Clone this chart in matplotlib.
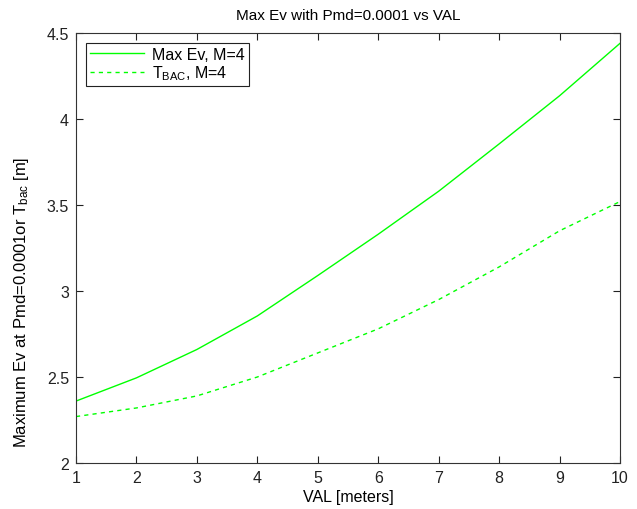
import matplotlib
matplotlib.use("Agg")
import matplotlib.pyplot as plt

val = [1, 2, 3, 4, 5, 6, 7, 8, 9, 10]
max_ev = [2.36, 2.495, 2.66, 2.855, 3.09, 3.33, 3.58, 3.855, 4.135, 4.44]
t_bac = [2.27, 2.32, 2.39, 2.50, 2.64, 2.78, 2.95, 3.14, 3.35, 3.52]

xticks = [1, 2, 3, 4, 5, 6, 7, 8, 9, 10]
yticks = [2, 2.5, 3, 3.5, 4, 4.5]

plt.rcParams['font.family'] = ['Liberation Sans', 'DejaVu Sans']
plt.rcParams['mathtext.default'] = 'regular'

fig = plt.figure(figsize=(6.37, 5.10), dpi=100)
ax = fig.add_axes([76/637, 46/510, 544/637, 430/510])

green = '#00ff00'
ax.plot(val, max_ev, color=green, lw=1.0, label='Max Ev, M=4')
ax.plot(val, t_bac, color=green, lw=1.0, ls=(0, (3, 3)), label='T$_{BAC}$, M=4')

ax.set_xlim(1, 10)
ax.set_ylim(2, 4.5)
ax.set_xticks(xticks)
ax.set_xticklabels([str(t) for t in xticks])
ax.set_yticks(yticks)
ax.set_yticklabels(['2', '2.5', '3', '3.5', '4', '4.5'])
ax.tick_params(direction='in', top=True, right=True, length=5, width=0.8,
               labelsize=11.5, colors='#222222')
ax.tick_params(axis='x', pad=5)
ax.tick_params(axis='y', pad=5)
for s in ax.spines.values():
    s.set_color('#333333')
    s.set_linewidth(0.8)

ax.set_title('Max Ev with Pmd=0.0001 vs VAL', fontsize=11, pad=10)
ax.set_xlabel('VAL [meters]', fontsize=11.5, labelpad=3)
ax.set_ylabel('Maximum Ev at Pmd=0.0001or T$_{bac}$ [m]', fontsize=12)
ax.yaxis.set_label_coords(-0.082, 0.377)

leg = ax.legend(loc='upper left', fontsize=11.5, frameon=True, fancybox=False,
                edgecolor='#222222', framealpha=1, borderaxespad=0.6,
                handlelength=3.4, handletextpad=0.5, borderpad=0.25,
                labelspacing=0.1)
leg.get_frame().set_linewidth(0.8)

fig.savefig('out.png', dpi=100, facecolor='white')
